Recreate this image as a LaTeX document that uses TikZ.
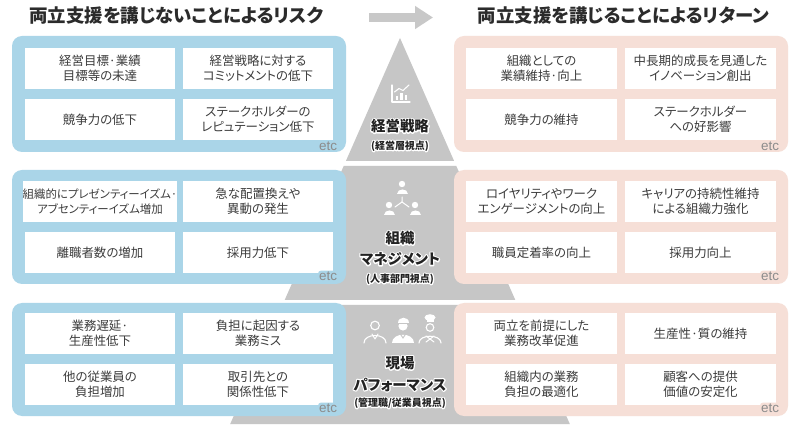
\documentclass[tikz,border=0pt]{standalone}
\usepackage{fontspec}
\setmainfont{Noto Sans CJK JP}[RawFeature=+palt]
\newfontfamily\etcfont{Liberation Sans}
\usetikzlibrary{arrows.meta}
\definecolor{pblue}{HTML}{AAD5E8}
\definecolor{ppink}{HTML}{F6DFD7}
\definecolor{pgray}{HTML}{C6C6C6}
\definecolor{agray}{HTML}{C8C8C8}
\definecolor{ttl}{HTML}{2B2B2B}
\definecolor{ctxt}{HTML}{3C3C3C}
\definecolor{etcgray}{HTML}{8C8C8C}
\definecolor{lbl}{HTML}{222222}
\tikzset{
  panelL/.style={fill=pblue, rounded corners=10bp},
  panelR/.style={fill=ppink, rounded corners=10bp},
  cellbox/.style={fill=white, minimum height=41bp, inner sep=0pt, align=center,
    text=ctxt, font=\fontsize{12.5}{15}\selectfont},
  cellL/.style={cellbox, minimum width=150bp},
  cellR/.style={cellbox, minimum width=151bp},
  titletext/.style={text=ttl, inner sep=0pt, font=\bfseries\fontsize{18.5}{20}\selectfont},
  etcL/.style={fill=pblue, rounded corners=3bp, inner sep=1bp, text=etcgray, font=\etcfont\fontsize{13.5}{14}\selectfont},
  etcR/.style={fill=ppink, rounded corners=3bp, inner sep=1bp, text=etcgray, font=\etcfont\fontsize{13.5}{14}\selectfont},
  bigl/.style={inner sep=0pt, font=\bfseries\fontsize{14.5}{16}\selectfont},
  smalll/.style={inner sep=0pt, font=\bfseries\fontsize{10}{11}\selectfont},
  iconline/.style={draw=white, line width=1.3bp, line cap=round, line join=round},
}
\newcommand{\strokeon}{\special{pdf:literal direct 1 Tr 2.4 w 1 1 1 RG 1 j}}
\newcommand{\strokeoff}{\special{pdf:literal direct 0 Tr}}
\newcommand{\halonode}[4]{%
  \node[#3, text=white] at (#2) {\strokeon #4\strokeoff};
  \node[#3, text=lbl] (#1) at (#2) {#4};
}
\begin{document}
\begin{tikzpicture}[x=1bp, y=-1bp]
\useasboundingbox (0,0) rectangle (800,436);
\fill[white] (0,0) rectangle (800,436);

% titles and arrow
\node[titletext] (tl) at (176.5,16) {両立支援を講じないことによるリスク};
\node[titletext] (tr) at (623.5,16) {両立支援を講じることによるリターン};
\coordinate (arrA) at (369,17.5);
\coordinate (arrB) at (433,17.5);
\draw[agray, line width=9bp, -{Triangle[length=18bp, width=22bp]}] (arrA) -- (arrB);

% pyramid
\fill[pgray] (400,38) -- (454.1,161) -- (345.9,161) -- cycle;
\fill[pgray] (343.7,166) -- (456.3,166) -- (515.3,300) -- (284.7,300) -- cycle;
\fill[pgray] (282.5,305) -- (517.5,305) -- (569.8,424) -- (230.2,424) -- cycle;

% panels
\fill[panelL] (12,36) rectangle (346,152);
\fill[panelR] (454,36) rectangle (788,152);
\fill[panelL] (12,170) rectangle (346,284);
\fill[panelR] (454,170) rectangle (788,284);
\fill[panelL] (12,303) rectangle (346,416);
\fill[panelR] (454,303) rectangle (788,416);

% top row cells
\node[cellL] (l11) at (100,68.5) {経営目標·業績\\目標等の未達};
\node[cellL] (l12) at (258,68.5) {経営戦略に対する\\コミットメントの低下};
\node[cellL] (l13) at (100,119.5) {競争力の低下};
\node[cellL] (l14) at (258,119.5) {ステークホルダーの\\レピュテーション低下};
\node[cellR] (r11) at (541.5,68.5) {組織としての\\業績維持·向上};
\node[cellR] (r12) at (700.5,68.5) {中長期的成長を見通した\\イノベーション創出};
\node[cellR] (r13) at (541.5,119.5) {競争力の維持};
\node[cellR] (r14) at (700.5,119.5) {ステークホルダー\\への好影響};

% middle row cells
\node[cellL, font=\fontsize{11.5}{15}\selectfont] (l21) at (100,201.5) {組織的にプレゼンティーイズム·\\アブセンティーイズム増加};
\node[cellL] (l22) at (258,201.5) {急な配置換えや\\異動の発生};
\node[cellL] (l23) at (100,252.5) {離職者数の増加};
\node[cellL] (l24) at (258,252.5) {採用力低下};
\node[cellR] (r21) at (541.5,201.5) {ロイヤリティやワーク\\エンゲージメントの向上};
\node[cellR] (r22) at (700.5,201.5) {キャリアの持続性維持\\による組織力強化};
\node[cellR] (r23) at (541.5,252.5) {職員定着率の向上};
\node[cellR] (r24) at (700.5,252.5) {採用力向上};

% bottom row cells
\node[cellL] (l31) at (100,333.5) {業務遅延·\\生産性低下};
\node[cellL] (l32) at (258,333.5) {負担に起因する\\業務ミス};
\node[cellL] (l33) at (100,384.5) {他の従業員の\\負担増加};
\node[cellL] (l34) at (258,384.5) {取引先との\\関係性低下};
\node[cellR] (r31) at (541.5,333.5) {両立を前提にした\\業務改革促進};
\node[cellR] (r32) at (700.5,333.5) {生産性·質の維持};
\node[cellR] (r33) at (541.5,384.5) {組織内の業務\\負担の最適化};
\node[cellR] (r34) at (700.5,384.5) {顧客への提供\\価値の安定化};

% etc labels
\node[etcL] (e1l) at (328,146) {etc};
\node[etcL] (e2l) at (328,276) {etc};
\node[etcL] (e3l) at (328,408) {etc};
\node[etcR] (e1r) at (770,146) {etc};
\node[etcR] (e2r) at (770,276) {etc};
\node[etcR] (e3r) at (770,408) {etc};

% icon: chart
\draw[iconline] (392,85) -- (392,102) -- (410,102);
\fill[white] (395.5,96) rectangle (398.3,100.5);
\fill[white] (400,93) rectangle (402.8,100.5);
\fill[white] (404.5,95) rectangle (407.3,100.5);
\draw[iconline, line width=1.1bp] (394.5,92) -- (399,88.5) -- (403,90.5) -- (409,85);

% icon: organisation
\fill[white] (402,184) circle[radius=3.2bp];
\fill[white] (396.5,194.5) .. controls (396.5,188) and (407.5,188) .. (407.5,194.5) -- cycle;
\fill[white] (389,205) circle[radius=3.2bp];
\fill[white] (383.5,215.5) .. controls (383.5,209) and (394.5,209) .. (394.5,215.5) -- cycle;
\fill[white] (415,205) circle[radius=3.2bp];
\fill[white] (409.5,215.5) .. controls (409.5,209) and (420.5,209) .. (420.5,215.5) -- cycle;
\draw[iconline, line width=1bp] (402,197) -- (402,202) -- (395,207);
\draw[iconline, line width=1bp] (402,202) -- (409,207);

% icon: three workers
\draw[iconline, line width=1.1bp] (375,325.5) circle[radius=4.3bp];
\draw[iconline, line width=1.1bp] (364,343) .. controls (364,333) and (386,333) .. (386,343);
\draw[iconline, line width=1bp] (372,334) -- (375,339) -- (378,334);
\fill[white] (403,326) circle[radius=4.6bp];
\fill[white] (397.5,323.5) .. controls (397.5,316.5) and (408.5,316.5) .. (408.5,323.5) -- cycle;
\draw[pgray, line width=0.8bp] (396.5,323.8) -- (409.5,323.8);
\fill[white] (392,343.5) .. controls (392,332.5) and (414,332.5) .. (414,343.5) -- cycle;
\draw[pgray, line width=0.9bp] (400,333.5) -- (403,338) -- (406,333.5);
\fill[white] (430,317.5) ellipse[x radius=5.5bp, y radius=3.3bp];
\fill[white] (426.5,318) rectangle (433.5,322);
\draw[iconline, line width=1.1bp] (430,327.5) circle[radius=3.8bp];
\draw[iconline, line width=1.1bp] (419,343) .. controls (419,334) and (441,334) .. (441,343);
\draw[iconline, line width=1bp] (426,336) -- (434,342);
\draw[iconline, line width=1bp] (434,336) -- (426,342);

% pyramid labels
\halonode{p1a}{400,126}{bigl}{経営戦略}
\halonode{p1b}{400,146}{smalll}{(経営層視点)}
\halonode{p2a}{400,238}{bigl}{組織}
\halonode{p2b}{400,259}{bigl}{マネジメント}
\halonode{p2c}{400,279}{smalll}{(人事部門視点)}
\halonode{p3a}{400,363}{bigl}{現場}
\halonode{p3b}{400,384.5}{bigl}{パフォーマンス}
\halonode{p3c}{400,403}{smalll}{(管理職/従業員視点)}
\end{tikzpicture}
\end{document}
